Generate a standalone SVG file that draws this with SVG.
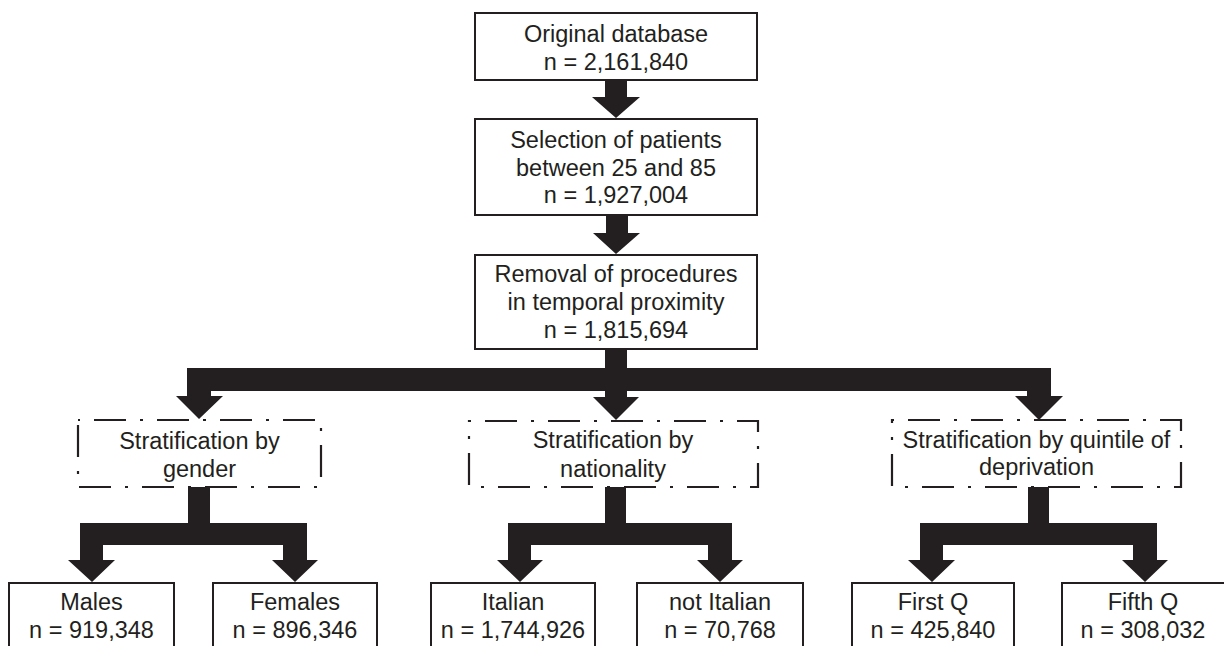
<svg xmlns="http://www.w3.org/2000/svg" width="1224" height="646" viewBox="0 0 1224 646">
<style>
.box{fill:#fff;stroke:#231f20;stroke-width:2}
.dbox{fill:#fff;stroke:#231f20;stroke-width:2.2;stroke-dasharray:32 14 3 14;stroke-dashoffset:47}
.t{font-family:"Liberation Sans",Arial,sans-serif;font-size:23.5px;fill:#231f20;text-anchor:middle}
.arr{fill:#231f20;stroke:none}
</style>
<rect width="1224" height="646" fill="#fff"/>
<g id="connectors">
<polygon class="arr" points="605,80 627,80 627,97 640,97 616,118 592,97 605,97"/>
<polygon class="arr" points="606,215 628,215 628,233 640,233 616,254 593,233 606,233"/>
<polygon class="arr" points="605,349 627,349 627,368 1051,368 1051,396 1063,396 1039,420 1015,396 1027,396 1027,391 627,391 627,397 639,397 616,420 593,397 605,397 605,391 211,391 211,396 223,396 199,419 176,396 187,396 187,368 605,368"/>
<polygon class="arr" points="188,487 210,487 210,523 307,523 307,560 318,560 295,582 272,560 283,560 283,545 103,545 103,560 115,560 92,582 68,560 80,560 80,523 188,523"/>
<polygon class="arr" points="605,487 626,487 626,523 732,523 732,560 743,560 720,582 697,560 708,560 708,545 531,545 531,560 543,560 520,582 497,560 508,560 508,523 605,523"/>
<polygon class="arr" points="1028,487 1049,487 1049,523 1157,523 1157,560 1168,560 1145,582 1122,560 1133,560 1133,545 943,545 943,560 955,560 932,582 908,560 920,560 920,523 1028,523"/>
</g>
<g id="original">
<rect class="box" x="475" y="13" width="282" height="67"/>
<text class="t" x="616" y="42">Original database</text>
<text class="t" x="616" y="70">n = 2,161,840</text>
</g>
<g id="selection">
<rect class="box" x="475" y="119" width="282" height="96"/>
<text class="t" x="616" y="148">Selection of patients</text>
<text class="t" x="616" y="175.5">between 25 and 85</text>
<text class="t" x="616" y="203">n = 1,927,004</text>
</g>
<g id="removal">
<rect class="box" x="475" y="255" width="282" height="94"/>
<text class="t" x="616" y="282">Removal of procedures</text>
<text class="t" x="616" y="310">in temporal proximity</text>
<text class="t" x="616" y="338">n = 1,815,694</text>
</g>
<g id="strat-gender">
<rect class="dbox" x="78" y="420" width="243" height="67"/>
<text class="t" x="199.5" y="449">Stratification by</text>
<text class="t" x="199.5" y="477">gender</text>
</g>
<g id="strat-nationality">
<rect class="dbox" x="469" y="421" width="289" height="66"/>
<text class="t" x="613" y="448">Stratification by</text>
<text class="t" x="613" y="477">nationality</text>
</g>
<g id="strat-deprivation">
<rect class="dbox" x="892" y="420" width="289" height="67"/>
<text class="t" x="1036.5" y="448">Stratification by quintile of</text>
<text class="t" x="1036.5" y="475">deprivation</text>
</g>
<g id="males">
<rect class="box" x="9" y="583" width="165" height="80"/>
<text class="t" x="91.5" y="610">Males</text>
<text class="t" x="91.5" y="638">n = 919,348</text>
</g>
<g id="females">
<rect class="box" x="213" y="583" width="164" height="80"/>
<text class="t" x="295" y="610">Females</text>
<text class="t" x="295" y="638">n = 896,346</text>
</g>
<g id="italian">
<rect class="box" x="431" y="583" width="164" height="80"/>
<text class="t" x="513" y="610">Italian</text>
<text class="t" x="513" y="638">n = 1,744,926</text>
</g>
<g id="not-italian">
<rect class="box" x="637" y="583" width="166" height="80"/>
<text class="t" x="720" y="610">not Italian</text>
<text class="t" x="720" y="638">n = 70,768</text>
</g>
<g id="first-q">
<rect class="box" x="852" y="583" width="162" height="80"/>
<text class="t" x="933" y="610">First Q</text>
<text class="t" x="933" y="638">n = 425,840</text>
</g>
<g id="fifth-q">
<rect class="box" x="1062" y="583" width="166" height="80"/>
<text class="t" x="1143" y="610">Fifth Q</text>
<text class="t" x="1143" y="638">n = 308,032</text>
</g>
</svg>
